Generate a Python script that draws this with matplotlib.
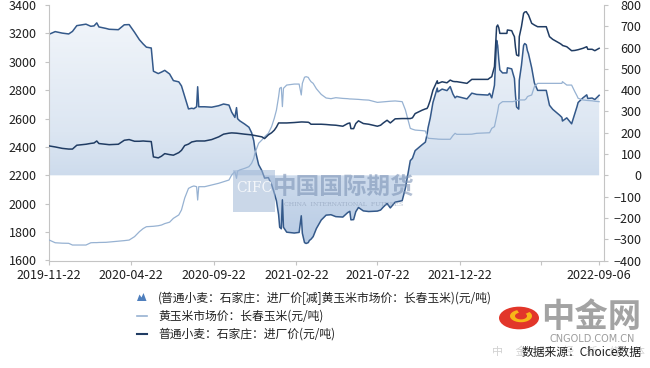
import matplotlib
matplotlib.use('Agg')
import matplotlib.pyplot as plt
import matplotlib.dates as mdates
from matplotlib.colors import LinearSegmentedColormap
from matplotlib.path import Path
from matplotlib.patches import Rectangle, Circle, Polygon, Wedge
from matplotlib.lines import Line2D
import numpy as np
import pandas as pd

plt.rcParams['font.family'] = ['Noto Sans CJK SC', 'DejaVu Sans']

# ---------------- data ----------------
dates = [
    '2019-11-22', '2019-12-03', '2019-12-16', '2019-12-28', '2020-01-04', '2020-01-12',
    '2020-01-29', '2020-02-07', '2020-02-13', '2020-02-18', '2020-02-22', '2020-03-06',
    '2020-03-12', '2020-03-29', '2020-04-09', '2020-04-18', '2020-04-28', '2020-05-07',
    '2020-05-14', '2020-05-20', '2020-05-29', '2020-06-02', '2020-06-11', '2020-06-17',
    '2020-06-23', '2020-07-02', '2020-07-09', '2020-07-19', '2020-07-24', '2020-07-30',
    '2020-08-06', '2020-08-12', '2020-08-16', '2020-08-21', '2020-08-23', '2020-08-25',
    '2020-09-05', '2020-09-18', '2020-10-01', '2020-10-10', '2020-10-20', '2020-10-25',
    '2020-10-31', '2020-11-03', '2020-11-05', '2020-11-09', '2020-11-18', '2020-11-26',
    '2020-12-01', '2020-12-05', '2020-12-07', '2020-12-14', '2020-12-20', '2020-12-25',
    '2021-01-01', '2021-01-07', '2021-01-12', '2021-01-16', '2021-01-20', '2021-01-22',
    '2021-01-25', '2021-01-27', '2021-01-29', '2021-02-04', '2021-02-18', '2021-02-27',
    '2021-03-03', '2021-03-05', '2021-03-09', '2021-03-12', '2021-03-16', '2021-03-18',
    '2021-03-21', '2021-03-25', '2021-03-31', '2021-04-09', '2021-04-18', '2021-04-27',
    '2021-05-06', '2021-05-19', '2021-05-28', '2021-06-01', '2021-06-03', '2021-06-08',
    '2021-06-12', '2021-06-17', '2021-06-26', '2021-07-06', '2021-07-22', '2021-07-28',
    '2021-08-02', '2021-08-09', '2021-08-15', '2021-08-24', '2021-09-06', '2021-09-12',
    '2021-09-21', '2021-09-25', '2021-09-30', '2021-10-13', '2021-10-19', '2021-10-22',
    '2021-10-24', '2021-10-28', '2021-11-02', '2021-11-10', '2021-11-11', '2021-11-19',
    '2021-11-28', '2021-12-04', '2021-12-09', '2021-12-13', '2021-12-16', '2022-01-04',
    '2022-01-13', '2022-01-22', '2022-02-12', '2022-02-15', '2022-02-19', '2022-02-24',
    '2022-02-28', '2022-03-02', '2022-03-04', '2022-03-06', '2022-03-11', '2022-03-19',
    '2022-03-20', '2022-03-28', '2022-03-30', '2022-04-02', '2022-04-04', '2022-04-06',
    '2022-04-10', '2022-04-11', '2022-04-15', '2022-04-19', '2022-04-21', '2022-04-24',
    '2022-04-26', '2022-04-28', '2022-05-04', '2022-05-09', '2022-05-15', '2022-05-31',
    '2022-06-06', '2022-06-12', '2022-06-25', '2022-06-29', '2022-06-30', '2022-07-08',
    '2022-07-17', '2022-07-23', '2022-07-27', '2022-07-29', '2022-08-07', '2022-08-14',
    '2022-08-16', '2022-08-24', '2022-08-29', '2022-09-06',
]

# 普通小麦：石家庄：进厂价 (元/吨)
wheat = [
    2407, 2400, 2390, 2385, 2385, 2412,
    2419, 2425, 2428, 2442, 2424, 2418,
    2416, 2419, 2447, 2452, 2440, 2440,
    2442, 2440, 2438, 2330, 2323, 2335,
    2353, 2346, 2342, 2360, 2376, 2410,
    2420, 2435, 2438, 2442, 2442, 2442,
    2442, 2452, 2471, 2490, 2497, 2499,
    2498, 2497, 2496, 2494, 2490, 2487,
    2485, 2482, 2480, 2476, 2471, 2459,
    2485, 2500, 2518, 2540, 2569, 2569,
    2569, 2569, 2569, 2569, 2572, 2575,
    2576, 2576, 2575, 2575, 2574, 2570,
    2560, 2560, 2560, 2560, 2558, 2555,
    2553, 2546, 2565, 2569, 2529, 2529,
    2565, 2584, 2565, 2560, 2546, 2553,
    2569, 2588, 2569, 2598, 2600, 2600,
    2600, 2605, 2635, 2659, 2668, 2671,
    2685, 2729, 2800, 2866, 2847, 2859,
    2852, 2871, 2862, 2860, 2860, 2848,
    2876, 2876, 2876, 2885, 2895, 2966,
    3247, 3259, 3240, 3200, 3200, 3200,
    3224, 3219, 3200, 3177, 3100, 3048,
    3041, 3177, 3247, 3341, 3350, 3353,
    3340, 3330, 3271, 3259, 3247, 3247,
    3177, 3158, 3130, 3120, 3115, 3106,
    3078, 3080, 3083, 3085, 3095, 3106,
    3088, 3088, 3078, 3095,
]

# 黄玉米市场价：长春玉米 (元/吨)
corn = [
    1744, 1725, 1722, 1721, 1709, 1709,
    1709, 1725, 1726, 1726, 1727, 1728,
    1730, 1735, 1740, 1744, 1768, 1803,
    1825, 1838, 1840, 1841, 1845, 1850,
    1860, 1870, 1897, 1921, 1956, 2040,
    2108, 2120, 2125, 2120, 2026, 2120,
    2120, 2132, 2144, 2155, 2167, 2202,
    2226, 2179, 2230, 2238, 2249, 2261,
    2285, 2320, 2355, 2426, 2449, 2472,
    2496, 2543, 2602, 2660, 2754, 2813,
    2820, 2684, 2813, 2836, 2843, 2843,
    2766, 2848, 2891, 2895, 2890, 2876,
    2860, 2848, 2810, 2770, 2745, 2740,
    2747, 2742, 2740, 2738, 2738, 2737,
    2736, 2735, 2732, 2730, 2714, 2716,
    2718, 2720, 2722, 2724, 2719, 2660,
    2531, 2525, 2519, 2515, 2512, 2480,
    2461, 2460, 2458, 2456, 2455, 2454,
    2454, 2454, 2480, 2496, 2489, 2489,
    2490, 2496, 2499, 2500, 2531, 2543,
    2613, 2650, 2696, 2705, 2719, 2719,
    2719, 2719, 2719, 2722, 2725, 2727,
    2730, 2731, 2731, 2731, 2731, 2740,
    2754, 2758, 2766, 2825, 2848, 2848,
    2848, 2848, 2848, 2848, 2860, 2836,
    2836, 2789, 2760, 2743, 2731, 2728,
    2727, 2725, 2722, 2719,
]

tick_dates = ['2019-11-22', '2020-04-22', '2020-09-22', '2021-02-22',
              '2021-07-22', '2021-12-22', '2022-05-22', '2022-09-06']
tick_labels = ['2019-11-22', '2020-04-22', '2020-09-22', '2021-02-22',
               '2021-07-22', '2021-12-22', '', '2022-09-06']
left_ticks = list(range(1600, 3401, 200))
right_ticks = list(range(-400, 801, 100))

legend_labels = ['(普通小麦：石家庄：进厂价[减]黄玉米市场价：长春玉米)(元/吨)',
                 '黄玉米市场价：长春玉米(元/吨)',
                 '普通小麦：石家庄：进厂价(元/吨)']

# ---------------- style ----------------
C_WHEAT = '#203c63'
C_CORN = '#97b2d2'
C_SPREAD = '#34598a'
C_AXIS = '#c4c4c4'
C_TEXT = '#1e1e1e'

W_PX, H_PX = 650, 368
fig = plt.figure(figsize=(W_PX / 100, H_PX / 100), dpi=100)
fig.patch.set_facecolor('white')


def fx(px):
    return px / W_PX


def fy(py):
    return 1 - py / H_PX


ax = fig.add_axes([fx(49), fy(260.5), fx(604) - fx(49), fy(5) - fy(260.5)])
ax2 = ax.twinx()
ax.set_zorder(2)
ax2.set_zorder(1)
ax.patch.set_visible(False)

x = mdates.date2num(pd.to_datetime(dates))
wheat_a = np.array(wheat, dtype=float)
corn_a = np.array(corn, dtype=float)
spread = wheat_a - corn_a   # 普通小麦 [减] 黄玉米

x0 = mdates.date2num(pd.Timestamp('2019-11-22')) - 0.5
x1 = mdates.date2num(pd.Timestamp('2022-09-06')) + 9

# spread area with vertical gradient
fb = ax2.fill_between(x, 0, spread, facecolor='none', edgecolor='none')
clip = Path.make_compound_path(*fb.get_paths())
grad = np.linspace(0, 1, 256).reshape(-1, 1)
cmap = LinearSegmentedColormap.from_list('g', ['#f4f7fb', '#dce6f2', '#b2c7e2'])
im = ax2.imshow(grad, extent=(x0, x1, -400, 800), aspect='auto', cmap=cmap,
                origin='upper', interpolation='bilinear', zorder=1)
im.set_clip_path(clip, transform=ax2.transData)
ax2.plot(x, spread, color=C_SPREAD, lw=1.1, zorder=2)

ax.plot(x, corn_a, color=C_CORN, lw=0.9, zorder=3)
ax.plot(x, wheat_a, color=C_WHEAT, lw=1.1, zorder=4)

ax.set_xlim(x0, x1)
ax2.set_xlim(x0, x1)
ax.set_ylim(1600, 3400)
ax2.set_ylim(-400, 800)

ax.set_yticks(left_ticks)
ax2.set_yticks(right_ticks)
ax.set_xticks(mdates.date2num(pd.to_datetime(tick_dates)))
ax.set_xticklabels(tick_labels)

for a in (ax, ax2):
    for s in a.spines.values():
        s.set_color(C_AXIS)
        s.set_linewidth(0.8)
    a.spines['top'].set_visible(False)
ax.spines['right'].set_visible(False)
ax2.spines['left'].set_visible(False)
ax2.spines['bottom'].set_visible(False)

ax.tick_params(axis='y', length=3, width=0.8, color=C_AXIS, labelsize=9,
               labelcolor=C_TEXT, pad=6)
ax.tick_params(axis='x', length=3, width=0.8, color=C_AXIS, labelsize=9,
               labelcolor=C_TEXT, pad=3)
ax2.tick_params(axis='y', length=3, width=0.8, color=C_AXIS, labelsize=9,
                labelcolor=C_TEXT, pad=24)
for lab in ax2.get_yticklabels():
    lab.set_horizontalalignment('right')

# ---------------- legend (drawn manually) ----------------
rows_y = [298, 316, 334]
icon = Polygon([[fx(137), fy(301)], [fx(139.5), fy(294.5)], [fx(141.5), fy(297.5)],
                [fx(143.5), fy(293)], [fx(146.5), fy(301)]], closed=True,
               transform=fig.transFigure, facecolor='#4f7fbd', edgecolor='none')
fig.add_artist(icon)
fig.add_artist(Line2D([fx(137), fx(147)], [fy(rows_y[1]), fy(rows_y[1])],
                      transform=fig.transFigure, color=C_CORN, lw=1.2))
fig.add_artist(Line2D([fx(137), fx(147)], [fy(rows_y[2]), fy(rows_y[2])],
                      transform=fig.transFigure, color=C_WHEAT, lw=1.5))
for ry, lab in zip(rows_y, legend_labels):
    fig.text(fx(158), fy(ry), lab, fontsize=8.5, color='#222222',
             ha='left', va='center')

# ---------------- watermarks ----------------
fig.add_artist(Rectangle((fx(233), fy(212)), fx(275) - fx(233), fy(170) - fy(212),
                         transform=fig.transFigure, facecolor='#9fb6d6',
                         edgecolor='none', alpha=0.55, zorder=10))
fig.text(fx(254), fy(188), 'CIFC', fontsize=10, color='white', alpha=0.8,
         family=['DejaVu Serif'], ha='center', va='center', zorder=11)
fig.text(fx(344), fy(187), '中国国际期货', fontsize=17, color='#7d94b6', alpha=0.6,
         ha='center', va='center', fontweight='bold', zorder=11)
fig.text(fx(344), fy(205), 'CHINA  INTERNATIONAL  FUTURES', fontsize=4.5,
         color='#8a9bb5', alpha=0.6, ha='center', va='center',
         family=['DejaVu Serif'], zorder=11)

# logo
fig.add_artist(Circle((fx(519), fy(318)), radius=20 / W_PX, transform=fig.transFigure,
                      facecolor='#e2362a', edgecolor='none', zorder=12))
fig.add_artist(Wedge((fx(521), fy(316)), 11 / W_PX, 110, 400, width=5 / W_PX,
                     transform=fig.transFigure, facecolor='#f7b718',
                     edgecolor='none', zorder=13))
fig.text(fx(591), fy(317), '中金网', fontsize=24, color='#a3a3a3',
         ha='center', va='center', fontweight='bold', zorder=12)
fig.text(fx(592), fy(338.5), 'CNGOLD.COM.CN', fontsize=7, color='#9c9c9c',
         family=['DejaVu Sans'], ha='center', va='center', zorder=12)
fig.text(fx(568), fy(352), '中     金     财     经     新     媒     体', fontsize=8,
         color='#d2d2d2', ha='center', va='center', zorder=12)
fig.text(fx(582), fy(352), '数据来源：Choice数据', fontsize=8.5, color='#1e1e1e',
         ha='center', va='center', zorder=13)

fig.savefig('out.png', dpi=100)
